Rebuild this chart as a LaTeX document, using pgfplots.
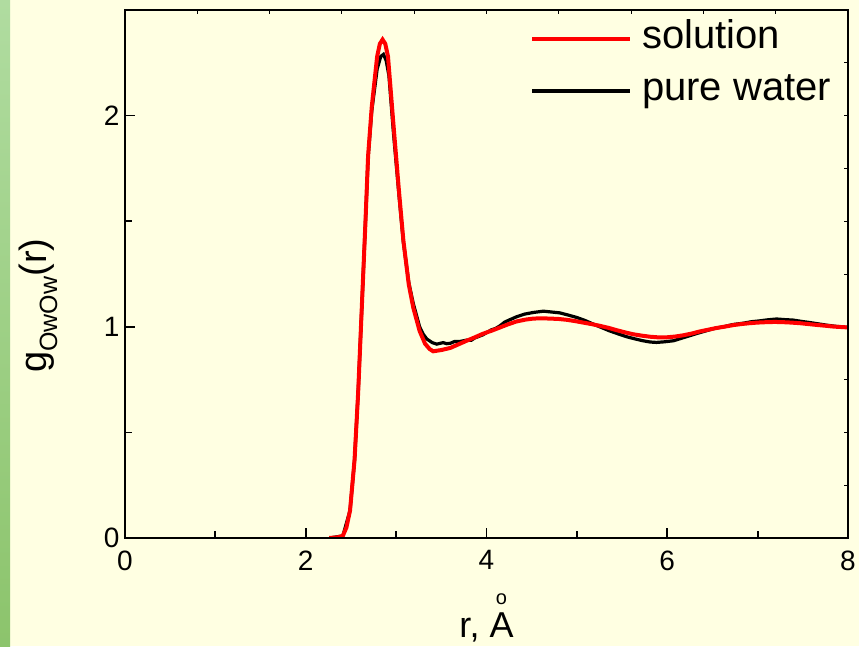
\documentclass[border=0pt]{standalone}
\usepackage{pgfplots}
\pgfplotsset{compat=1.18}
\usepackage{fontspec}
\setmainfont{Liberation Sans}
\definecolor{bgyellow}{RGB}{255,255,226}
\definecolor{stripA}{RGB}{176,220,160}
\definecolor{stripB}{RGB}{140,196,108}

\pgfplotstableread{
r g
2.26 0
2.41 0.01
2.49 0.13
2.54 0.37
2.58 0.69
2.62 1.09
2.66 1.49
2.69 1.80
2.73 2.02
2.79 2.22
2.83 2.28
2.86 2.29
2.89 2.26
2.92 2.19
2.97 1.92
3.03 1.63
3.08 1.40
3.14 1.21
3.19 1.11
3.26 1.00
3.30 0.965
3.34 0.942
3.40 0.925
3.45 0.918
3.52 0.925
3.56 0.920
3.60 0.922
3.65 0.931
3.70 0.930
3.78 0.937
3.83 0.936
3.87 0.947
3.96 0.962
4.05 0.985
4.10 0.992
4.15 1.005
4.20 1.022
4.24 1.030
4.33 1.047
4.42 1.060
4.52 1.068
4.63 1.074
4.72 1.070
4.81 1.066
4.90 1.056
5.00 1.044
5.09 1.030
5.18 1.013
5.27 0.997
5.36 0.981
5.46 0.966
5.55 0.953
5.64 0.943
5.73 0.934
5.81 0.928
5.88 0.926
5.97 0.929
6.07 0.934
6.16 0.946
6.25 0.958
6.34 0.970
6.43 0.981
6.53 0.993
6.62 1.000
6.73 1.011
6.84 1.017
6.93 1.024
7.02 1.028
7.11 1.033
7.21 1.037
7.30 1.034
7.39 1.032
7.48 1.026
7.58 1.020
7.67 1.014
7.76 1.008
7.87 1.002
8.00 0.997
}\water

\pgfplotstableread{
r g
2.26 0
2.35 0.003
2.41 0.01
2.45 0.05
2.49 0.13
2.54 0.37
2.58 0.69
2.62 1.09
2.66 1.49
2.69 1.81
2.73 2.04
2.79 2.28
2.82 2.34
2.85 2.36
2.88 2.34
2.91 2.28
2.97 1.96
3.03 1.65
3.08 1.41
3.14 1.20
3.19 1.09
3.26 0.98
3.32 0.92
3.37 0.895
3.41 0.884
3.50 0.890
3.60 0.900
3.69 0.917
3.78 0.934
3.87 0.950
3.96 0.967
4.06 0.982
4.15 0.997
4.24 1.012
4.33 1.025
4.43 1.034
4.52 1.039
4.61 1.040
4.70 1.039
4.80 1.037
4.89 1.033
4.98 1.027
5.07 1.020
5.16 1.013
5.25 1.005
5.35 0.995
5.44 0.984
5.53 0.974
5.62 0.965
5.72 0.958
5.81 0.953
5.90 0.950
5.99 0.950
6.09 0.954
6.18 0.960
6.27 0.968
6.36 0.978
6.45 0.986
6.54 0.994
6.64 1.001
6.73 1.008
6.82 1.013
6.91 1.017
7.00 1.020
7.10 1.022
7.19 1.023
7.28 1.022
7.37 1.020
7.47 1.017
7.56 1.013
7.65 1.009
7.75 1.005
7.84 1.001
7.92 0.999
8.00 0.997
}\solution

\begin{document}
\begin{tikzpicture}
\fill[bgyellow] (0,0) rectangle (859pt,646pt);
\shade[top color=stripA, bottom color=stripB] (0,0) rectangle (10pt,646pt);

% small top/right ticks
\begin{axis}[
  at={(125pt,108pt)}, anchor=south west,
  scale only axis, width=723pt, height=528pt,
  xmin=0, xmax=8, ymin=0, ymax=2.5,
  axis line style={draw=none},
  xtick={0.8,1.6,2.4,3.2,4,4.8,5.6,6.4,7.2},
  ytick={0.25,0.5,0.75,1,1.25,1.5,1.75,2,2.25},
  xtick pos=right, ytick pos=right,
  tick align=inside, major tick length=4pt,
  every tick/.style={line width=0.9pt, black},
  xticklabels={}, yticklabels={},
]
\end{axis}

\begin{axis}[
  name=ax,
  at={(125pt,108pt)}, anchor=south west,
  scale only axis, width=723pt, height=528pt,
  xmin=0, xmax=8, ymin=0, ymax=2.5,
  axis line style={draw=none},
  xtick pos=left, ytick pos=left,
  xtick={0,2,4,6,8}, ytick={0,1,2},
  minor xtick={1,3,5,7}, minor ytick={0.5,1.5},
  tick align=inside,
  major tick length=10pt, minor tick length=7pt,
  every tick/.style={line width=1.8pt, black},
  /pgf/number format/assume math mode=true,
  ticklabel style={font=\fontsize{28}{30}\selectfont},
  xticklabel style={yshift=-9pt},
  yticklabel style={xshift=-2pt},
  xlabel={r, \shortstack{\fontsize{20}{16}\selectfont o\\[5pt]A}},
  xlabel style={font=\fontsize{36}{38}\selectfont, at={(rel axis cs:0.5,0)}, anchor=base, yshift=-99pt},
  ylabel={g\raisebox{-0.28em}{\fontsize{25}{25}\selectfont OwOw}(r)},
  ylabel style={font=\fontsize{38}{40}\selectfont, at={(rel axis cs:-0.12,0.44)}, anchor=center},
  legend style={at={(rel axis cs:0.56,0.985)}, anchor=north west, draw=none, fill=none,
    font=\fontsize{40}{42}\selectfont, inner sep=0pt, row sep=11pt, column sep=8pt,
    nodes={inner sep=2pt, text height=28pt, text depth=9pt}},
  legend cell align=left,
  legend image code/.code={\draw[#1] (0pt,0pt) -- (98pt,0pt);},
]
\addplot[black, line width=3.2pt, forget plot] table[x=r, y=g] {\water};
\addplot[red, line width=4pt, forget plot] table[x=r, y=g] {\solution};
\addlegendimage{red, line width=4pt}
\addlegendentry{solution}
\addlegendimage{black, line width=4pt}
\addlegendentry{pure water}
\end{axis}
\draw[line width=1.6pt, black] (ax.north west) -- (ax.north east) -- (ax.south east);
\draw[line width=2.6pt, black, line cap=rect] (ax.north west) -- (ax.south west) -- (ax.south east);
\pgfresetboundingbox
\useasboundingbox (0,0) rectangle (859pt,646pt);
\end{tikzpicture}
\end{document}
